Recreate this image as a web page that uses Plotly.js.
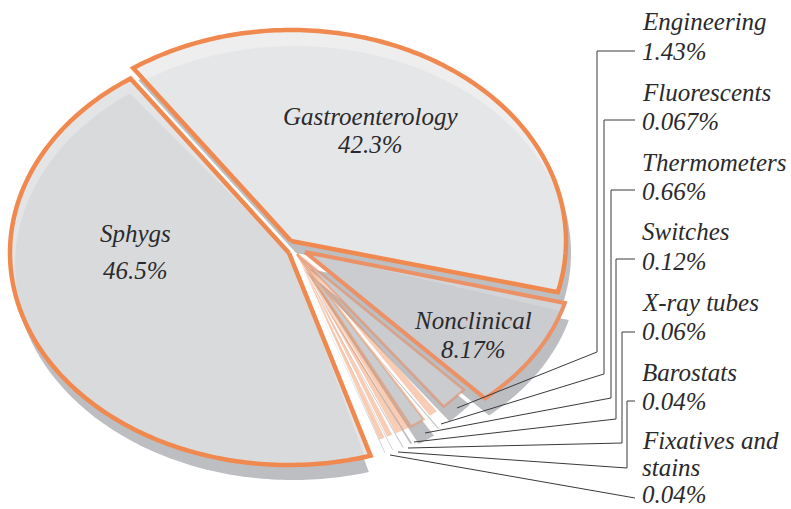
<!DOCTYPE html>
<html><head><meta charset="utf-8">
<script src="https://cdn.plot.ly/plotly-3.0.1.min.js"></script>
<style>html,body{margin:0;padding:0;background:#fff}</style></head>
<body><div id="chart" style="width:791px;height:509px"></div>
<script>
// Data
const categories = ["Sphygs","Gastroenterology","Nonclinical","Engineering","Fluorescents","Thermometers","Switches","X-ray tubes","Barostats","Fixatives and stains"];
const values = [46.5,42.3,8.17,1.43,0.067,0.66,0.12,0.06,0.04,0.04];
const valueLabels = ["46.5%","42.3%","8.17%","1.43%","0.067%","0.66%","0.12%","0.06%","0.04%","0.04%"];

// Drawing geometry (the pie is a tilted ellipse, exploded, small slices exaggerated)
const apexX = [289,291,305,297,297,297,297,297,297,297];
const apexY = [253,241,252,254,254,254,254,254,254,254];
const radX  = [279,275,269,228,228,228,228,228,228,228];
const radY  = [212,211,197,199,199,199,199,199,199,199];
const startDeg = [-73,125,-15,-43,-52.2,-56.2,-60.4,-62.6,-65.3,-67.4];
const sweepScale = [0.97,0.913,1.122,1.36,9.0,1.6,4.5,8.0,10.0,10.0];
const shadowDX = [4,5,4,6,5,9,5,4,3,3];
const shadowDY = [15,12,17,15,15,17,15,15,14,14];
const shadowFrac = [0.985,1,1,1,0.15,1.2,0.25,0.12,0.1,0.1];
const salmon = "rgba(240,137,79,0.42)";
const fills = ["#e3e4e6","#eeeeef","#d3d4d7","#cbccd0",salmon,"#cbccd0",salmon,salmon,salmon,salmon];
const innerFills = ["#d9dadc","#e5e6e8","#cbccd0",null,null,null,null,null,null,null];
const innerInset = [[2.5,1.2],[0,0],[0,2.5]];
const innerShift = [[5,12],[4,16],[0,0]];
const outlines = ["#f0894f","#f0894f","#ec9066","rgba(236,130,80,0.5)",null,"rgba(240,137,79,0.45)",null,null,null,null];
const outlineW = [4.5,4.5,4,2.6,0,2.4,0,0,0,0];
const shadowColor = "#bdbec2";
const textColor = "#2a2a2c";
const fontFamily = "Liberation Serif";

function sweepOf(i){ return values[i]*3.6*sweepScale[i]; }
function wedge(i,dx,dy,frac){
  const f=frac||1;
  const w=sweepOf(i)*f, s=startDeg[i]-(sweepOf(i)-w)/2;
  const xs=[apexX[i]+dx], ys=[apexY[i]+dy], n=Math.max(6,Math.ceil(w));
  for(let k=0;k<=n;k++){
    const t=(s-w*k/n)*Math.PI/180;
    xs.push(apexX[i]+dx+radX[i]*Math.cos(t));
    ys.push(apexY[i]+dy-radY[i]*Math.sin(t));
  }
  xs.push(xs[0]); ys.push(ys[0]);
  return {xs,ys};
}
function innerWedge(i){
  const [a,b]=innerInset[i],[sx,sy]=innerShift[i];
  const xs=[apexX[i]], ys=[apexY[i]];
  const s=startDeg[i]-b, w=sweepOf(i)-a-b, n=Math.ceil(w);
  for(let k=0;k<=n;k++){
    const t=(s-w*k/n)*Math.PI/180;
    const ux=radX[i]*Math.cos(t), uy=-radY[i]*Math.sin(t);
    // ray from the apex to the arc, cut at the ellipse shifted by (sx,sy)
    const A=(ux*ux)/(radX[i]*radX[i])+(uy*uy)/(radY[i]*radY[i]);
    const B=-2*(sx*ux/(radX[i]*radX[i])+sy*uy/(radY[i]*radY[i]));
    const C=(sx*sx)/(radX[i]*radX[i])+(sy*sy)/(radY[i]*radY[i])-1;
    const r=Math.min(1,(-B+Math.sqrt(B*B-4*A*C))/(2*A));
    xs.push(apexX[i]+ux*r); ys.push(apexY[i]+uy*r);
  }
  xs.push(xs[0]); ys.push(ys[0]);
  return {xs,ys};
}
const traces=[];
function poly(p,fill){
  traces.push({type:"scatter",mode:"lines",x:p.xs,y:p.ys,fill:"toself",fillcolor:fill,
    line:{color:"rgba(0,0,0,0)",width:0,simplify:false},hoverinfo:"skip",showlegend:false});
}
const order=[9,8,7,6,5,4,3,2,1,0];
order.forEach(i=>poly(wedge(i,shadowDX[i],shadowDY[i],shadowFrac[i]),shadowColor));
order.forEach(i=>{
  poly(wedge(i,0,0),fills[i]);
  if(innerFills[i]) poly(innerWedge(i),innerFills[i]);
  if(outlines[i]){
    const o=wedge(i,0,0);
    traces.push({type:"scatter",mode:"lines",x:o.xs,y:o.ys,line:{color:outlines[i],width:outlineW[i],simplify:false},hoverinfo:"skip",showlegend:false});
  }
});

// Leader lines: slice anchor, elbow, label
const leaderX = [[457,597,597,635],[441,604,604,635],[425,611,611,635],[414,616,616,635],[408,622,622,635],[398,627,627,635],[390,635]];
const leaderY = [[408,352,51,51],[424,374,120,120],[433,398,190,190],[442,419,259,259],[448,443,332,332],[452,468,401,401],[455,498]];
leaderX.forEach((x,i)=>traces.push({type:"scatter",mode:"lines",x:x,y:leaderY[i],line:{color:"#3a3a3c",width:1,simplify:false},hoverinfo:"skip",showlegend:false}));

// Text
const fs=25;
const ann=(x,y,text,anchor)=>({x:x,y:y,xref:"x",yref:"y",text:text,showarrow:false,xanchor:anchor,yanchor:"middle",
  font:{family:fontFamily,size:fs,color:textColor,style:"italic"}});
const annotations=[
  ann(135,233,categories[0],"center"),ann(135,270,valueLabels[0],"center"),
  ann(370,116,categories[1],"center"),ann(370,144,valueLabels[1],"center"),
  ann(473,320,categories[2],"center"),ann(473,349,valueLabels[2],"center")
];
const nameY=[21,92,162,231,302,372];
const valY=[51,121,191,261,331,401];
for(let i=0;i<6;i++){
  annotations.push(ann(640,nameY[i],categories[i+3],"left"));
  annotations.push(ann(640,valY[i],valueLabels[i+3],"left"));
}
annotations.push(ann(640,440,"Fixatives and","left"));
annotations.push(ann(640,467,"stains","left"));
annotations.push(ann(640,494.5,valueLabels[9],"left"));

const hidden={visible:false,fixedrange:true};
Plotly.newPlot("chart",traces,{
  width:791,height:509,margin:{l:0,r:0,t:0,b:0},paper_bgcolor:"#fff",plot_bgcolor:"#fff",showlegend:false,
  xaxis:Object.assign({range:[0,791]},hidden),
  yaxis:Object.assign({range:[509,0]},hidden),
  annotations:annotations
},{staticPlot:true,displayModeBar:false});
</script></body></html>
